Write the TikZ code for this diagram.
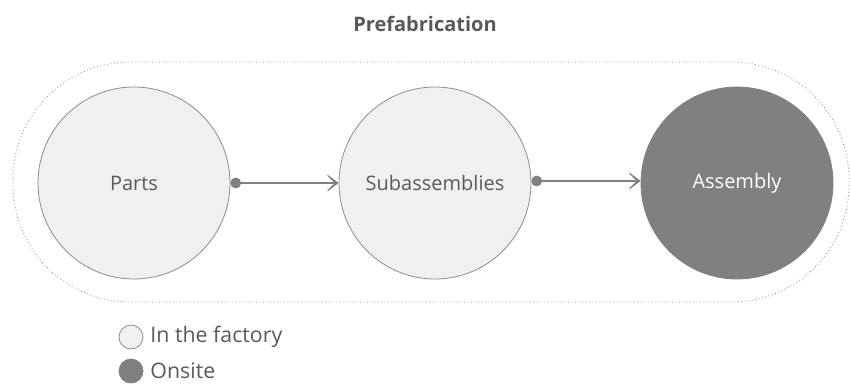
\documentclass[tikz,border=0pt]{standalone}
\usepackage{fontspec}
\setmainfont{Open Sans}
\usetikzlibrary{arrows.meta}

\begin{document}
\begin{tikzpicture}[x=0.75pt,y=-0.75pt,line width=0.6pt]
  \colorlet{factory}{black!6}
  \colorlet{onsite}{black!50}
  \colorlet{ink}{black!65}
  \tikzset{
    stage/.style={circle,draw=black!45,fill=factory,minimum size=144pt,inner sep=0pt,text=ink,font=\fontsize{15}{18}\selectfont},
    flow/.style={draw=onsite,line width=2.2pt,{Circle[length=2.8mm]}-{Stealth[length=4.4mm,width=6.6mm,inset=3.4mm]}},
    key/.style={circle,draw=black!45,fill=factory,minimum size=18pt,inner sep=0pt}
  }
  \useasboundingbox (0,0) rectangle (851,383);
  % title
  \node[font=\bfseries\fontsize{15}{18}\selectfont,text=ink] (title) at (425,24) {Prefabrication};
  % dotted frame round the three stages
  \draw[black!50,dotted,line width=0.6pt,rounded corners=88pt] (13,62) rectangle (849,302);
  % stages
  \node[stage] (parts) at (134,183) {Parts};
  \node[stage] (sub) at (435,183) {Subassemblies};
  \node[stage,fill=onsite,draw=onsite,text=white] (asm) at (737,183) {Assembly};
  % connectors
  \draw[flow] (parts.east) -- (sub.west);
  \draw[flow] ([yshift=1.5pt]sub.east) -- ([yshift=1.5pt]asm.west);
  % legend
  \node[key] (kf) at (131,337) {};
  \node[key,fill=onsite,draw=onsite] (ko) at (131,371) {};
  \node[anchor=west,text=ink,font=\fontsize{16}{19}\selectfont,inner sep=0pt] (lf) at ([xshift=5pt]kf.east) {In the factory};
  \node[anchor=west,text=ink,font=\fontsize{16}{19}\selectfont,inner sep=0pt] (lo) at ([xshift=5pt]ko.east) {Onsite};
\end{tikzpicture}
\end{document}
